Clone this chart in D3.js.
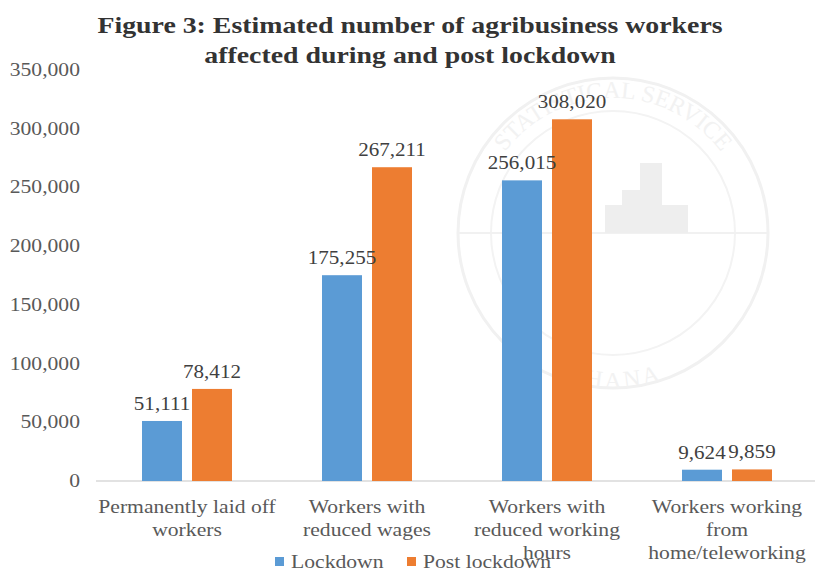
<!DOCTYPE html>
<html>
<head>
<meta charset="utf-8">
<script src="https://cdnjs.cloudflare.com/ajax/libs/d3/7.8.5/d3.min.js"></script>
<style>
  body { margin: 0; background: #fff; }
  text { font-family: "Liberation Serif", "Times New Roman", serif; }
</style>
</head>
<body>
<div id="chart"></div>
<script>
var categories = [
    ["Permanently laid off", "workers"],
    ["Workers with", "reduced wages"],
    ["Workers with", "reduced working", "hours"],
    ["Workers working", "from", "home/teleworking"]];
var seriesNames = ["Lockdown", "Post lockdown"];
var lockdown = [51111, 175255, 256015, 9624];
var postLockdown = [78412, 267211, 308020, 9859];
var yTicks = [0, 50000, 100000, 150000, 200000, 250000, 300000, 350000];
var colors = ["#5b9bd5", "#ed7d31"];

var width = 817,
    height = 571,
    sx = 1.17; // the picture is a bit stretched sideways

var svg = d3.select("#chart").append("svg")
    .attr("width", width)
    .attr("height", height);

// stretched text helper
function label(g, x, y, str, size, anchor, fill, weight) {
    return g.append("text")
        .attr("transform", "translate(" + x + "," + y + ") scale(" + sx + ",1)")
        .attr("text-anchor", anchor)
        .attr("font-size", size)
        .attr("font-weight", weight || "normal")
        .attr("fill", fill)
        .text(str);
}

// faint watermark behind the chart
var wm = svg.append("g").attr("transform", "translate(613,233)");
wm.append("circle").attr("r", 155).attr("fill", "none").attr("stroke", "#f1f1f1").attr("stroke-width", 3);
wm.append("circle").attr("r", 122).attr("fill", "none").attr("stroke", "#f3f3f3").attr("stroke-width", 2);
wm.append("line").attr("x1", -155).attr("x2", 155).attr("stroke", "#f1f1f1").attr("stroke-width", 2);
[[-8, 0, 17, 28], [9, 0, 18, 43], [27, 0, 22, 70], [49, 0, 26, 28]].forEach(function(b) {
    wm.append("rect").attr("x", b[0]).attr("y", -b[3]).attr("width", b[2]).attr("height", b[3]).attr("fill", "#eeeeee");
});
wm.append("path").attr("id", "wmTop").attr("d", "M-135,0 A135,135 0 0,1 135,0").attr("fill", "none");
wm.append("path").attr("id", "wmBot").attr("d", "M-135,0 A135,135 0 0,0 135,0").attr("fill", "none");
wm.append("text").attr("font-size", 24).attr("fill", "#f2f2f2").attr("font-family", "Liberation Sans")
    .append("textPath").attr("href", "#wmTop").attr("startOffset", "50%").attr("text-anchor", "middle")
    .text("STATISTICAL SERVICE");
wm.append("text").attr("font-size", 24).attr("fill", "#f2f2f2").attr("font-family", "Liberation Sans")
    .attr("dy", 20)
    .append("textPath").attr("href", "#wmBot").attr("startOffset", "50%").attr("text-anchor", "middle")
    .text("GHANA");

var x0 = d3.scaleBand()
    .domain(d3.range(categories.length))
    .range([97, 817]);

var x1 = d3.scaleBand()
    .domain(seriesNames)
    .range([x0.bandwidth() * 0.25, x0.bandwidth() * 0.75])
    .paddingInner(0.2);

var y = d3.scaleLinear()
    .domain([0, 350000])
    .range([481, 70]);

var fmt = d3.format(",");

// y axis labels
var yAxis = svg.append("g");
yTicks.forEach(function(t) {
    label(yAxis, 80, y(t) + 6, fmt(t), 18.5, "end", "#595959");
});

// baseline
svg.append("line")
    .attr("x1", 96).attr("x2", 815)
    .attr("y1", y(0)).attr("y2", y(0))
    .attr("stroke", "#d9d9d9").attr("stroke-width", 1.5);

// bars
var values = [lockdown, postLockdown];
var bars = svg.append("g");
seriesNames.forEach(function(s, si) {
    values[si].forEach(function(v, i) {
        bars.append("rect")
            .attr("x", x0(i) + x1(s))
            .attr("y", y(v))
            .attr("width", x1.bandwidth())
            .attr("height", y(0) - y(v))
            .attr("fill", colors[si]);
    });
});

// value labels
var vals = svg.append("g");
seriesNames.forEach(function(s, si) {
    values[si].forEach(function(v, i) {
        label(vals, x0(i) + x1(s) + x1.bandwidth() / 2, y(v) - 11, fmt(v), 18, "middle", "#404040");
    });
});

// category labels
var cats = svg.append("g");
categories.forEach(function(lines, i) {
    lines.forEach(function(l, j) {
        label(cats, x0(i) + x0.bandwidth() / 2, 513 + j * 23, l, 18.5, "middle", "#595959");
    });
});

// title
label(svg, 410, 33, "Figure 3: Estimated number of agribusiness workers", 23.8, "middle", "#333333", "bold");
label(svg, 410, 63, "affected during and post lockdown", 23.8, "middle", "#333333", "bold");

// legend
var legend = svg.append("g");
var legX = [275, 407];
seriesNames.forEach(function(s, si) {
    legend.append("rect")
        .attr("x", legX[si]).attr("y", 557)
        .attr("width", 9).attr("height", 9)
        .attr("fill", colors[si]);
    label(legend, legX[si] + 16, 568, s, 18.5, "start", "#595959");
});
</script>
</body>
</html>
